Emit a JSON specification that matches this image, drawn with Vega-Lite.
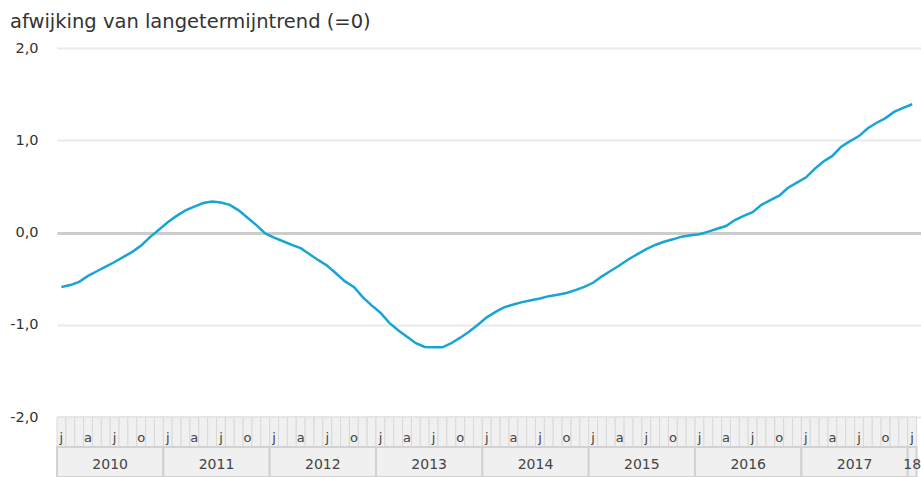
{
  "$schema": "https://vega.github.io/schema/vega-lite/v6.json",
  "padding": {"left": 0, "top": 11, "right": 0, "bottom": 0},
  "background": "white",
  "title": {"text": "afwijking van langetermijntrend (=0)", "anchor": "start", "frame": "bounds", "dx": 10, "offset": 8, "fontSize": 19.5, "fontWeight": "normal", "color": "#333333", "font": "DejaVu Sans"},
  "config": {"view": {"stroke": null}, "font": "DejaVu Sans"},
  "spacing": 0,
  "bounds": "flush",
  "datasets": {
    "reeks": [
      {"t":0.5,"v":-0.59},{"t":1.5,"v":-0.57},{"t":2.5,"v":-0.535},{"t":3.5,"v":-0.47},{"t":4.5,"v":-0.42},{"t":5.5,"v":-0.37},{"t":6.5,"v":-0.32},{"t":7.5,"v":-0.265},{"t":8.5,"v":-0.21},{"t":9.5,"v":-0.14},{"t":10.5,"v":-0.05},{"t":11.5,"v":0.03},
      {"t":12.5,"v":0.11},{"t":13.5,"v":0.18},{"t":14.5,"v":0.24},{"t":15.5,"v":0.28},{"t":16.5,"v":0.32},{"t":17.5,"v":0.335},{"t":18.5,"v":0.325},{"t":19.5,"v":0.3},{"t":20.5,"v":0.24},{"t":21.5,"v":0.16},{"t":22.5,"v":0.08},{"t":23.5,"v":-0.01},
      {"t":24.5,"v":-0.055},{"t":25.5,"v":-0.095},{"t":26.5,"v":-0.135},{"t":27.5,"v":-0.17},{"t":28.5,"v":-0.235},{"t":29.5,"v":-0.3},{"t":30.5,"v":-0.36},{"t":31.5,"v":-0.445},{"t":32.5,"v":-0.53},{"t":33.5,"v":-0.59},{"t":34.5,"v":-0.7},{"t":35.5,"v":-0.79},
      {"t":36.5,"v":-0.87},{"t":37.5,"v":-0.98},{"t":38.5,"v":-1.06},{"t":39.5,"v":-1.13},{"t":40.5,"v":-1.2},{"t":41.5,"v":-1.24},{"t":42.5,"v":-1.245},{"t":43.5,"v":-1.245},{"t":44.5,"v":-1.2},{"t":45.5,"v":-1.14},{"t":46.5,"v":-1.075},{"t":47.5,"v":-1.0},
      {"t":48.5,"v":-0.92},{"t":49.5,"v":-0.86},{"t":50.5,"v":-0.81},{"t":51.5,"v":-0.78},{"t":52.5,"v":-0.755},{"t":53.5,"v":-0.735},{"t":54.5,"v":-0.715},{"t":55.5,"v":-0.69},{"t":56.5,"v":-0.675},{"t":57.5,"v":-0.655},{"t":58.5,"v":-0.625},{"t":59.5,"v":-0.59},
      {"t":60.5,"v":-0.545},{"t":61.5,"v":-0.475},{"t":62.5,"v":-0.415},{"t":63.5,"v":-0.355},{"t":64.5,"v":-0.29},{"t":65.5,"v":-0.235},{"t":66.5,"v":-0.18},{"t":67.5,"v":-0.135},{"t":68.5,"v":-0.1},{"t":69.5,"v":-0.074},{"t":70.5,"v":-0.045},{"t":71.5,"v":-0.03},
      {"t":72.5,"v":-0.018},{"t":73.5,"v":0.01},{"t":74.5,"v":0.04},{"t":75.5,"v":0.07},{"t":76.5,"v":0.135},{"t":77.5,"v":0.18},{"t":78.5,"v":0.22},{"t":79.5,"v":0.3},{"t":80.5,"v":0.35},{"t":81.5,"v":0.4},{"t":82.5,"v":0.485},{"t":83.5,"v":0.54},
      {"t":84.5,"v":0.595},{"t":85.5,"v":0.69},{"t":86.5,"v":0.77},{"t":87.5,"v":0.83},{"t":88.5,"v":0.93},{"t":89.5,"v":0.99},{"t":90.5,"v":1.045},{"t":91.5,"v":1.13},{"t":92.5,"v":1.19},{"t":93.5,"v":1.24},{"t":94.5,"v":1.31},{"t":95.5,"v":1.35},
      {"t":96.5,"v":1.39}
    ],
    "maanden": [
      {"s":0,"e":1,"m":0.5,"l":"j"},{"s":1,"e":2,"m":1.5,"l":""},{"s":2,"e":3,"m":2.5,"l":""},{"s":3,"e":4,"m":3.5,"l":"a"},{"s":4,"e":5,"m":4.5,"l":""},{"s":5,"e":6,"m":5.5,"l":""},{"s":6,"e":7,"m":6.5,"l":"j"},{"s":7,"e":8,"m":7.5,"l":""},{"s":8,"e":9,"m":8.5,"l":""},{"s":9,"e":10,"m":9.5,"l":"o"},{"s":10,"e":11,"m":10.5,"l":""},{"s":11,"e":12,"m":11.5,"l":""},
      {"s":12,"e":13,"m":12.5,"l":"j"},{"s":13,"e":14,"m":13.5,"l":""},{"s":14,"e":15,"m":14.5,"l":""},{"s":15,"e":16,"m":15.5,"l":"a"},{"s":16,"e":17,"m":16.5,"l":""},{"s":17,"e":18,"m":17.5,"l":""},{"s":18,"e":19,"m":18.5,"l":"j"},{"s":19,"e":20,"m":19.5,"l":""},{"s":20,"e":21,"m":20.5,"l":""},{"s":21,"e":22,"m":21.5,"l":"o"},{"s":22,"e":23,"m":22.5,"l":""},{"s":23,"e":24,"m":23.5,"l":""},
      {"s":24,"e":25,"m":24.5,"l":"j"},{"s":25,"e":26,"m":25.5,"l":""},{"s":26,"e":27,"m":26.5,"l":""},{"s":27,"e":28,"m":27.5,"l":"a"},{"s":28,"e":29,"m":28.5,"l":""},{"s":29,"e":30,"m":29.5,"l":""},{"s":30,"e":31,"m":30.5,"l":"j"},{"s":31,"e":32,"m":31.5,"l":""},{"s":32,"e":33,"m":32.5,"l":""},{"s":33,"e":34,"m":33.5,"l":"o"},{"s":34,"e":35,"m":34.5,"l":""},{"s":35,"e":36,"m":35.5,"l":""},
      {"s":36,"e":37,"m":36.5,"l":"j"},{"s":37,"e":38,"m":37.5,"l":""},{"s":38,"e":39,"m":38.5,"l":""},{"s":39,"e":40,"m":39.5,"l":"a"},{"s":40,"e":41,"m":40.5,"l":""},{"s":41,"e":42,"m":41.5,"l":""},{"s":42,"e":43,"m":42.5,"l":"j"},{"s":43,"e":44,"m":43.5,"l":""},{"s":44,"e":45,"m":44.5,"l":""},{"s":45,"e":46,"m":45.5,"l":"o"},{"s":46,"e":47,"m":46.5,"l":""},{"s":47,"e":48,"m":47.5,"l":""},
      {"s":48,"e":49,"m":48.5,"l":"j"},{"s":49,"e":50,"m":49.5,"l":""},{"s":50,"e":51,"m":50.5,"l":""},{"s":51,"e":52,"m":51.5,"l":"a"},{"s":52,"e":53,"m":52.5,"l":""},{"s":53,"e":54,"m":53.5,"l":""},{"s":54,"e":55,"m":54.5,"l":"j"},{"s":55,"e":56,"m":55.5,"l":""},{"s":56,"e":57,"m":56.5,"l":""},{"s":57,"e":58,"m":57.5,"l":"o"},{"s":58,"e":59,"m":58.5,"l":""},{"s":59,"e":60,"m":59.5,"l":""},
      {"s":60,"e":61,"m":60.5,"l":"j"},{"s":61,"e":62,"m":61.5,"l":""},{"s":62,"e":63,"m":62.5,"l":""},{"s":63,"e":64,"m":63.5,"l":"a"},{"s":64,"e":65,"m":64.5,"l":""},{"s":65,"e":66,"m":65.5,"l":""},{"s":66,"e":67,"m":66.5,"l":"j"},{"s":67,"e":68,"m":67.5,"l":""},{"s":68,"e":69,"m":68.5,"l":""},{"s":69,"e":70,"m":69.5,"l":"o"},{"s":70,"e":71,"m":70.5,"l":""},{"s":71,"e":72,"m":71.5,"l":""},
      {"s":72,"e":73,"m":72.5,"l":"j"},{"s":73,"e":74,"m":73.5,"l":""},{"s":74,"e":75,"m":74.5,"l":""},{"s":75,"e":76,"m":75.5,"l":"a"},{"s":76,"e":77,"m":76.5,"l":""},{"s":77,"e":78,"m":77.5,"l":""},{"s":78,"e":79,"m":78.5,"l":"j"},{"s":79,"e":80,"m":79.5,"l":""},{"s":80,"e":81,"m":80.5,"l":""},{"s":81,"e":82,"m":81.5,"l":"o"},{"s":82,"e":83,"m":82.5,"l":""},{"s":83,"e":84,"m":83.5,"l":""},
      {"s":84,"e":85,"m":84.5,"l":"j"},{"s":85,"e":86,"m":85.5,"l":""},{"s":86,"e":87,"m":86.5,"l":""},{"s":87,"e":88,"m":87.5,"l":"a"},{"s":88,"e":89,"m":88.5,"l":""},{"s":89,"e":90,"m":89.5,"l":""},{"s":90,"e":91,"m":90.5,"l":"j"},{"s":91,"e":92,"m":91.5,"l":""},{"s":92,"e":93,"m":92.5,"l":""},{"s":93,"e":94,"m":93.5,"l":"o"},{"s":94,"e":95,"m":94.5,"l":""},{"s":95,"e":96,"m":95.5,"l":""},
      {"s":96,"e":97,"m":96.5,"l":"j"}
    ],
    "jaren": [
      {"s":0,"e":12,"m":6,"l":"2010"},{"s":12,"e":24,"m":18,"l":"2011"},{"s":24,"e":36,"m":30,"l":"2012"},{"s":36,"e":48,"m":42,"l":"2013"},{"s":48,"e":60,"m":54,"l":"2014"},{"s":60,"e":72,"m":66,"l":"2015"},{"s":72,"e":84,"m":78,"l":"2016"},{"s":84,"e":96,"m":90,"l":"2017"},{"s":96,"e":97,"m":96.5,"l":"18"}
    ]
  },
  "vconcat": [
    {
      "width": 864,
      "height": 369,
      "data": {"name": "reeks"},
      "mark": {"type": "line", "color": "#18a5d4", "strokeWidth": 2.5},
      "encoding": {
        "x": {"field": "t", "type": "quantitative", "scale": {"domain": [0, 97.5], "nice": false, "zero": false}, "axis": null},
        "y": {
          "field": "v", "type": "quantitative",
          "scale": {"domain": [-2, 2], "nice": false},
          "axis": {
            "values": [-2, -1, 0, 1, 2],
            "title": null, "domain": false, "ticks": false,
            "labelPadding": 19, "labelFontSize": 14.5, "labelColor": "#333333", "labelFont": "DejaVu Sans",
            "minExtent": 57, "maxExtent": 57,
            "labelExpr": "replace(replace(format(datum.value, '.1f'), '.', ','), '\u2212', '-')",
            "gridColor": {"condition": {"test": "datum.value === 0", "value": "#cccccc"}, "value": "#e9e9e9"},
            "gridWidth": {"condition": {"test": "datum.value === 0", "value": 3}, "value": 2}
          }
        }
      }
    },
    {
      "width": 864,
      "height": 60,
      "layer": [
        {
          "data": {"name": "maanden"},
          "mark": {"type": "rect", "fill": "#f0f0f0", "stroke": "#d9d9d9", "strokeWidth": 1},
          "encoding": {
            "x": {"field": "s", "type": "quantitative", "scale": {"domain": [0, 97.5], "nice": false, "zero": false}, "axis": null},
            "x2": {"field": "e"},
            "y": {"datum": "maand", "type": "nominal", "scale": {"domain": ["maand", "jaar"], "paddingInner": 0, "paddingOuter": 0}, "axis": null}
          }
        },
        {
          "data": {"name": "jaren"},
          "mark": {"type": "rect", "fill": "#f0f0f0", "stroke": "#d2d2d2", "strokeWidth": 2},
          "encoding": {
            "x": {"field": "s", "type": "quantitative"},
            "x2": {"field": "e"},
            "y": {"datum": "jaar", "type": "nominal"}
          }
        },
        {
          "data": {"name": "maanden"},
          "mark": {"type": "text", "fontSize": 13, "color": "#444444", "baseline": "middle", "align": "center", "dy": 6},
          "encoding": {
            "x": {"field": "m", "type": "quantitative"},
            "y": {"datum": "maand", "type": "nominal"},
            "text": {"field": "l"}
          }
        },
        {
          "data": {"name": "jaren"},
          "mark": {"type": "text", "fontSize": 14, "color": "#444444", "baseline": "middle", "align": "center", "dy": 3},
          "encoding": {
            "x": {"field": "m", "type": "quantitative"},
            "y": {"datum": "jaar", "type": "nominal"},
            "text": {"field": "l"}
          }
        }
      ]
    }
  ]
}
